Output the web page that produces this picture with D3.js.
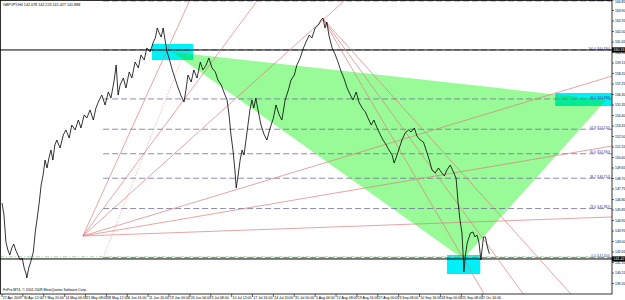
<!DOCTYPE html>
<html><head><meta charset="utf-8">
<script src="https://cdn.jsdelivr.net/npm/d3@7"></script>
<style>
body{margin:0;background:#fff}
svg{display:block}
text{font-family:"Liberation Sans",Arial,sans-serif}
</style>
</head><body>
<svg id="c" width="625" height="300"></svg>
<script>
// ---------------- data ----------------
const titleText = "GBPJPY,H4  142.078 142.223 141.427 141.888";
const copyrightText = "FxPro MT4, \u00a9 2001-2009 MetaQuotes Software Corp.";

const timeLabels = ["27 Apr 2009","30 Apr 12:00","7 May 20:00","14 May 04:00","21 May 08:00","28 May 12:00",
  "4 Jun 16:00","11 Jun 20:00","19 Jun 00:00","26 Jun 04:00","3 Jul 08:00","10 Jul 12:00","17 Jul 16:00",
  "24 Jul 20:00","31 Jul 00:00","5 Aug 04:00","12 Aug 08:00","19 Aug 16:00","27 Aug 00:00","3 Sep 08:00",
  "10 Sep 16:00","18 Sep 00:00","25 Sep 08:00","2 Oct 16:00"];
const barsPerLabel = 32;

const priceTicks = [164.85,163.90,162.95,162.00,161.05,160.10,159.15,158.20,157.25,156.30,155.35,154.40,
  153.45,152.50,151.55,150.60,149.65,148.70,147.75,146.80,145.85,144.90,143.95,143.00,142.05,141.10,140.15,139.20];

// close prices (H4 bar index, close)
const priceBars = [0,3,6,9,12,15,18,21,25,28,31,34,37,38,41,44,48,51,54,57,60,63,66,69,72,75,78,81,84,89,94,98,
  103,107,112,117,121,126,130,135,140,144,149,153,158,163,167,172,175,178,181,186,190,195,199,204,209,213,218,
  222,227,232,235,238,241,244,247,250,253,256,261,265,270,274,279,282,285,290,294,299,304,308,313,317,322,327,
  331,336,340,345,348,351,354,357,359,362,365,368,371,374,377,380,383,386,389,393,397,402,406,411,416,420,425,
  429,434,439,443,448,452,457,462,466,471,475,480,485,489,492,495,498,501,506,511,515,520,524,529,534,538,543,
  547,552,557,561,566,570,575,580,584,589,593,598,601,604,609,613,618,623,627,632,636,641,646,650,655,659,664,
  669,673,678,682,687,692,696,699,702,705,707,708,710,713,718,722,725,728,731,734,738,741,744,747];
const priceCloses = [146.48,145.40,142.96,142.23,141.78,142.41,142.77,142.23,141.69,141.33,141.51,140.60,140.06,
  139.70,140.60,141.15,142.05,143.86,145.13,146.48,148.11,149.02,150.37,149.65,150.56,151.28,150.37,151.73,152.18,
  151.46,152.64,153.09,152.36,153.54,153.09,153.99,153.27,154.45,154.17,154.90,153.99,155.08,155.80,156.25,155.35,
  156.53,155.98,157.61,158.97,156.25,157.16,157.79,156.89,158.34,157.79,159.24,158.70,159.87,159.42,160.51,160.15,
  161.05,161.41,162.32,161.86,161.50,162.32,161.23,160.15,159.60,158.52,157.79,156.89,156.25,155.62,156.71,158.06,
  157.43,158.52,157.79,159.24,158.52,158.97,159.60,158.70,158.34,157.61,157.16,156.53,155.80,154.45,152.64,151.28,
  149.47,147.84,149.02,150.37,151.28,150.83,152.18,153.54,154.90,155.80,155.08,155.98,154.72,153.54,152.64,152.18,
  153.27,154.17,155.35,154.45,153.99,155.80,156.71,157.61,158.06,158.97,159.60,160.51,161.05,161.68,161.41,162.32,
  162.59,163.04,163.22,162.32,162.86,161.68,160.51,159.87,159.24,158.34,157.79,156.89,156.25,155.80,156.53,155.62,
  155.08,154.72,154.17,153.54,153.99,153.27,152.64,152.18,151.73,151.28,150.83,150.10,150.56,151.46,152.18,152.82,
  153.09,152.91,153.27,152.55,152.18,152.00,151.28,150.37,149.47,149.20,149.65,149.29,148.93,149.47,149.92,149.29,
  148.75,146.57,144.95,143.77,141.60,140.24,141.60,142.86,143.77,143.86,143.41,143.59,142.96,141.33,143.41,143.41,
  142.50,141.888];

// horizontal lines (price)
const hLinePrices = [160.33, 141.42];
const bidLinePrice = 141.62;

// Fibonacci retracement: anchors [bar, price] and levels
const fibAnchor0 = [155, 141.55];
const fibAnchor100 = [281, 160.33];
const fibLevels = [0.0, 23.6, 38.2, 50.0, 61.8, 76.4, 100.0, 123.6];

// trend-line fans: origin [bar,price] and targets [bar,price]
const fanLowOrigin = [124, 143.50];
const fanLowTargets = [[288,164.85],[392,164.85],[526,164.85],[935,157.97],[935,151.64],[935,145.22]];
const fanHighOrigin = [491, 163.22];
const fanHighTargets = [[739,138.25],[799,138.25],[872,138.25]];

// triangle vertices [bar, price]
const triangle = [[261,160.15],[926,155.80],[707,141.42]];
// rectangles [bar1, price1, bar2, price2]
const rects = [[230,160.87,293,159.42],[848,156.44,937,155.26],[682,141.78,733,140.06]];

// ---------------- drawing ----------------
const W = 625, H = 300, plotR = 612, plotB = 294;
const svg = d3.select("#c");
const x = d3.scaleLinear().domain([0, 935]).range([2, plotR]);
const y = d3.scaleLinear().domain([138.25, 164.85]).range([plotB, 0]);

svg.append("defs").append("clipPath").attr("id","clip")
  .append("rect").attr("x",0).attr("y",0).attr("width",plotR).attr("height",plotB);
const g = svg.append("g").attr("clip-path","url(#clip)");

// triangle
g.append("path")
  .attr("d", d3.line().x(d=>x(d[0])).y(d=>y(d[1]))(triangle) + "Z")
  .attr("fill", "#98fb98");

// rectangles (blend with triangle)
g.selectAll("rect.box").data(rects).enter().append("rect").attr("class","box")
  .attr("x", d=>x(d[0])).attr("y", d=>y(d[1]))
  .attr("width", d=>x(d[2])-x(d[0])).attr("height", d=>y(d[3])-y(d[1]))
  .attr("fill", "#00f0f8").style("mix-blend-mode","multiply");

// fib levels
const fibRange = fibAnchor100[1]-fibAnchor0[1];
const fibX0 = x(Math.min(fibAnchor0[0], fibAnchor100[0]));
fibLevels.forEach(l => {
  const p = fibAnchor0[1] + fibRange*l/100;
  g.append("line").attr("x1", fibX0).attr("x2", plotR)
    .attr("y1", y(p)).attr("y2", y(p))
    .attr("stroke", "#70709c").attr("stroke-width", 0.8).attr("stroke-dasharray","6,3");
  g.append("text").attr("x", plotR-2).attr("y", y(p)-0.4)
    .attr("text-anchor","end").attr("font-size", 3.1).attr("fill", "#3b3b9a")
    .text(l.toFixed(1) + " (" + p.toFixed(3) + ")");
});
// fib diagonal (dotted)
g.append("line").attr("x1", x(fibAnchor0[0])).attr("y1", y(fibAnchor0[1]))
  .attr("x2", x(fibAnchor100[0])).attr("y2", y(fibAnchor100[1]))
  .attr("stroke","#e08a8a").attr("stroke-width",0.7).attr("stroke-dasharray","1,1.5");

// bid line
g.append("line").attr("x1",0).attr("x2",plotR).attr("y1",y(bidLinePrice)).attr("y2",y(bidLinePrice))
  .attr("stroke","#8fcf8f").attr("stroke-width",0.8).attr("stroke-dasharray","4,2,1,2");

// horizontal black lines
hLinePrices.forEach(p => {
  g.append("line").attr("x1",0).attr("x2",plotR).attr("y1",y(p)).attr("y2",y(p))
    .attr("stroke","#000").attr("stroke-width",1);
});

// fan lines
fanLowTargets.forEach(t => {
  g.append("line").attr("x1",x(fanLowOrigin[0])).attr("y1",y(fanLowOrigin[1]))
    .attr("x2",x(t[0])).attr("y2",y(t[1])).attr("stroke","#de7c7c").attr("stroke-width",0.7);
});
fanHighTargets.forEach(t => {
  g.append("line").attr("x1",x(fanHighOrigin[0])).attr("y1",y(fanHighOrigin[1]))
    .attr("x2",x(t[0])).attr("y2",y(t[1])).attr("stroke","#de7c7c").attr("stroke-width",0.7);
});

// price line
g.append("path")
  .datum(priceBars.map((b,i)=>[b, priceCloses[i]]))
  .attr("d", d3.line().x(d=>x(d[0])).y(d=>y(d[1])))
  .attr("fill","none").attr("stroke","#000").attr("stroke-width",0.8);

// frame
svg.append("rect").attr("x",0.5).attr("y",0.5).attr("width",plotR-0.5).attr("height",plotB-0.5)
  .attr("fill","none").attr("stroke","#000").attr("stroke-width",0.8);

// right price axis
const yAxis = svg.append("g");
priceTicks.forEach(p => {
  yAxis.append("line").attr("x1",plotR).attr("x2",plotR+2).attr("y1",y(p)).attr("y2",y(p)).attr("stroke","#000").attr("stroke-width",0.6);
  yAxis.append("text").attr("x",plotR+3).attr("y",Math.max(y(p)+1.3, 3)).attr("font-size",3.4).attr("fill","#000").text(p.toFixed(2));
});
hLinePrices.forEach(p => {
  yAxis.append("rect").attr("x",plotR).attr("y",y(p)-2.6).attr("width",W-plotR).attr("height",5.2).attr("fill","#000");
  yAxis.append("text").attr("x",plotR+1.5).attr("y",y(p)+1.3).attr("font-size",3.6).attr("fill","#fff").text(p.toFixed(2));
});

// time axis
const xAxis = svg.append("g");
timeLabels.forEach((t,i) => {
  const xx = x(i*barsPerLabel);
  xAxis.append("line").attr("x1",xx).attr("x2",xx).attr("y1",plotB).attr("y2",plotB+3).attr("stroke","#000").attr("stroke-width",0.6);
  xAxis.append("text").attr("x",xx+0.8).attr("y",298.6).attr("font-size",3.5).attr("fill","#000").text(t);
});

// texts
svg.append("text").attr("x",3).attr("y",5.5).attr("font-size",3.7).attr("fill","#000").text(titleText);
svg.append("text").attr("x",3).attr("y",290.5).attr("font-size",3.5).attr("fill","#000").text(copyrightText);
</script>
</body></html>
